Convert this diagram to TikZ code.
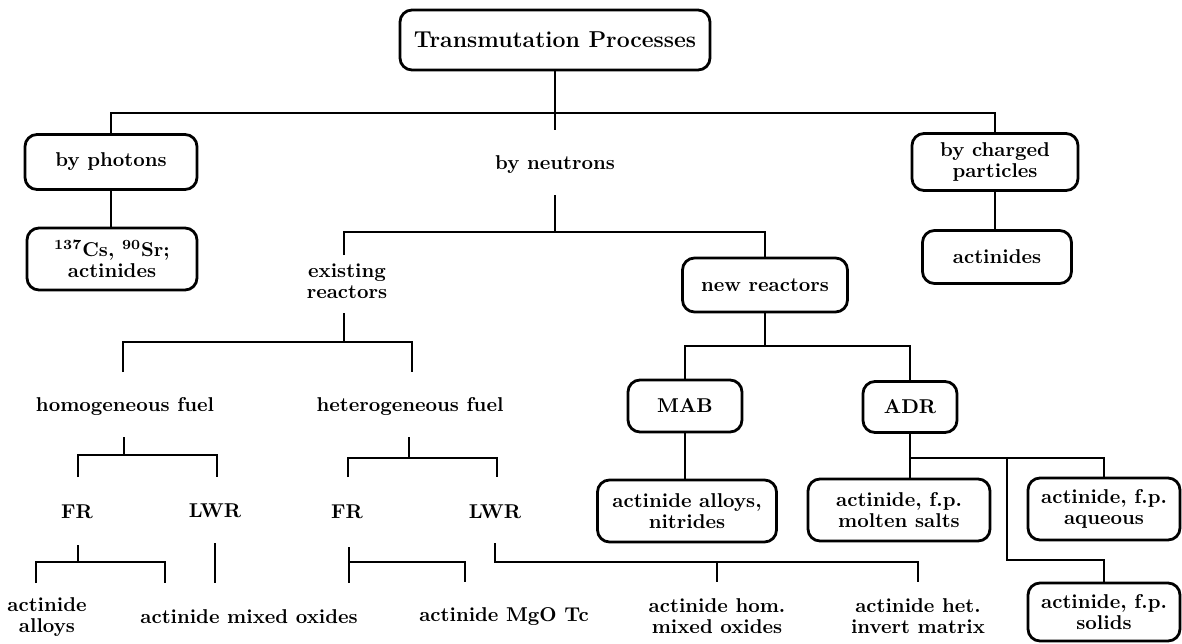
\documentclass[tikz,border=0pt]{standalone}
\newcommand\lab{\fontsize{10}{10.5}\selectfont\bfseries}
\newcommand\ttl{\fontsize{11.5}{13}\selectfont\bfseries}
\tikzset{
  box/.style={draw, line width=1.4pt, rounded corners=6pt, align=center, inner sep=0pt, font=\lab},
  lbl/.style={align=center, inner sep=1pt, font=\lab},
  conn/.style={line width=1.4pt}
}
\begin{document}
\begin{tikzpicture}[x=0.5pt,y=-0.5pt]
\useasboundingbox (0,0) rectangle (1182,643);
% nodes
\node[box, minimum width=155pt, minimum height=30pt, font=\ttl] (top) at (555,40) {Transmutation Processes};
\node[box, minimum width=86pt, minimum height=27.5pt] (phot) at (111,162) {by photons};
\node[box, minimum width=85pt, minimum height=31pt] (cs) at (112,259) {\textsuperscript{137}Cs, \textsuperscript{90}Sr;\\actinides};
\node[lbl] (neut) at (555,165) {by neutrons};
\node[box, minimum width=83pt, minimum height=28.5pt] (chg) at (995,162) {by charged\\particles};
\node[box, minimum width=74.5pt, minimum height=26.5pt] (actc) at (997,257) {actinides};
\node[lbl] (exist) at (347,281) {existing\\reactors};
\node[box, minimum width=82.5pt, minimum height=27pt] (newr) at (765,285) {new reactors};
\node[lbl] (homo) at (125,407) {homogeneous fuel};
\node[lbl] (hete) at (410,407) {heterogeneous fuel};
\node[box, minimum width=57pt, minimum height=26pt] (mab) at (685,406) {MAB};
\node[box, minimum width=47pt, minimum height=25.5pt] (adr) at (910,407) {ADR};
\node[lbl] (fr1) at (77,512) {FR};
\node[lbl] (lwr1) at (215,511) {LWR};
\node[lbl] (fr2) at (347,512) {FR};
\node[lbl] (lwr2) at (495,512) {LWR};
\node[box, minimum width=89.5pt, minimum height=31pt] (alln) at (687,511) {actinide alloys,\\nitrides};
\node[box, minimum width=91pt, minimum height=31pt] (molt) at (899,510) {actinide, f.p.\\molten salts};
\node[box, minimum width=76pt, minimum height=31pt] (aq) at (1104,509) {actinide, f.p.\\aqueous};
\node[box, minimum width=76pt, minimum height=29pt] (sol) at (1104,612) {actinide, f.p.\\solids};
\node[lbl] (aall) at (47,617) {actinide\\alloys};
\node[lbl] (amix) at (249,617) {actinide mixed oxides};
\node[lbl] (amgo) at (504,617) {actinide MgO Tc};
\node[lbl] (ahom) at (717,616) {actinide hom.\\mixed oxides};
\node[lbl] (ahet) at (918,616) {actinide het.\\invert matrix};
% junction coordinates
\coordinate (j0) at (555,113);
\coordinate (e0) at (555,130);
\coordinate (n1) at (555,195);
\coordinate (j1) at (555,232);
\coordinate (x1) at (344,255);
\coordinate (x2) at (344,313);
\coordinate (j2) at (344,342);
\coordinate (h1) at (123,372);
\coordinate (h2) at (412,372);
\coordinate (x3) at (124,437);
\coordinate (j3) at (124,455);
\coordinate (f1) at (78,477);
\coordinate (l1) at (217,477);
\coordinate (x4) at (409,437);
\coordinate (j4) at (409,458);
\coordinate (f2) at (348,477);
\coordinate (l2) at (497,477);
\coordinate (x5) at (78,545);
\coordinate (j5) at (78,562);
\coordinate (b1) at (36,583);
\coordinate (b2) at (165,583);
\coordinate (x6) at (215,543);
\coordinate (b3) at (215,583);
\coordinate (x7) at (349,547);
\coordinate (j7) at (349,562);
\coordinate (b4) at (349,583);
\coordinate (b5) at (465,582);
\coordinate (x8) at (495,543);
\coordinate (j8) at (495,562);
\coordinate (j9) at (717,562);
\coordinate (b6) at (717,582);
\coordinate (b7) at (918,582);
\coordinate (j10) at (765,346);
\coordinate (j11) at (910,458);
\coordinate (j12) at (1007,458);
\coordinate (j13) at (1007,560);
% connectors
\draw[conn] (top.south) -- (e0);
\draw[conn] (phot.north) |- (j0) -| (chg.north);
\draw[conn] (phot.south) -- (phot.south |- cs.north);
\draw[conn] (chg.south) -- (chg.south |- actc.north);
\draw[conn] (n1) -- (j1);
\draw[conn] (x1) |- (j1) -| (newr.north);
\draw[conn] (x2) -- (j2);
\draw[conn] (h1) |- (j2) -| (h2);
\draw[conn] (x3) -- (j3);
\draw[conn] (f1) |- (j3) -| (l1);
\draw[conn] (x4) -- (j4);
\draw[conn] (f2) |- (j4) -| (l2);
\draw[conn] (x5) -- (j5);
\draw[conn] (b1) |- (j5) -| (b2);
\draw[conn] (x6) -- (b3);
\draw[conn] (x7) -- (b4);
\draw[conn] (j7) -| (b5);
\draw[conn] (x8) -- (j8) -| (b7);
\draw[conn] (j9) -- (b6);
\draw[conn] (newr.south) -- (j10);
\draw[conn] (mab.north) |- (j10) -| (adr.north);
\draw[conn] (mab.south) -- (mab.south |- alln.north);
\draw[conn] (adr.south) -- (adr.south |- molt.north);
\draw[conn] (j11) -| (aq.north);
\draw[conn] (j12) -- (j13) -| (sol.north);
\end{tikzpicture}
\end{document}
